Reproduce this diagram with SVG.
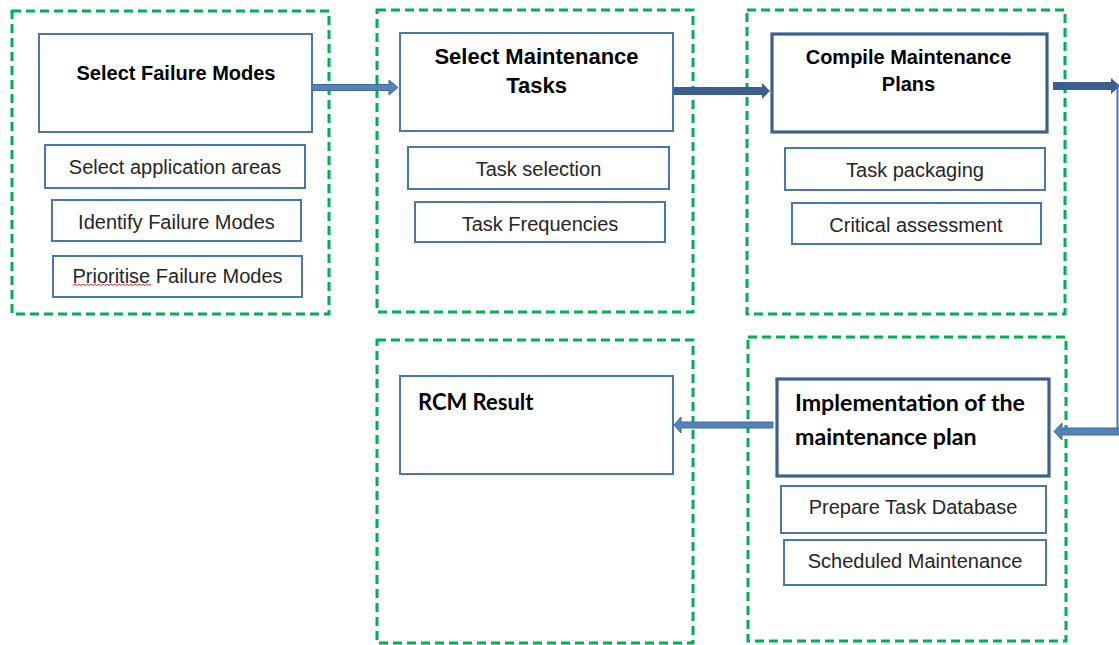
<svg xmlns="http://www.w3.org/2000/svg" width="1119" height="645" viewBox="0 0 1119 645">
<style>
.grp{fill:none;stroke:#00B050;stroke-width:3;stroke-dasharray:9 5}
.box{fill:#fff;stroke:#4a76a8;stroke-width:2}
.main{fill:#fff;stroke:#3b5f8f;stroke-width:3.2}
.t{font-family:"Liberation Sans",Arial,sans-serif;font-size:20px;fill:#262626;text-anchor:middle}
.h{font-family:"Liberation Sans",Arial,sans-serif;font-weight:bold;fill:#000;text-anchor:middle}
.c{font-family:Lato,"Liberation Sans",sans-serif;font-weight:bold;fill:#000}
.al{fill:#5482b9;stroke:#3e6a9c;stroke-width:1}
.ad{fill:#3d5f8f}
</style>
<rect width="1119" height="645" fill="#fff"/>
<g id="group-frames">
<rect class="grp" x="12" y="11" width="317" height="303"/>
<rect class="grp" x="377" y="10" width="316" height="302"/>
<rect class="grp" x="747" y="10" width="318" height="304"/>
<rect class="grp" x="377" y="340" width="316" height="303"/>
<rect class="grp" x="748" y="337" width="318" height="304"/>
</g>
<g id="connectors">
<path class="al" d="M312,84.5 H389 V80 L398,87.5 L389,95 V90.5 H312 Z"/>
<path class="ad" d="M673,87 H762 V83 L770,91 L762,99 V95 H673 Z"/>
<path class="ad" d="M1053,82 H1111 V78 L1120,86 L1111,94 V90 H1053 Z"/>
<line x1="1117.5" y1="86" x2="1117.5" y2="431" stroke="#4a76a8" stroke-width="2"/>
<path class="al" d="M1120,428 H1062 V423 L1054,431.5 L1062,440 V435 H1120 Z"/>
<path class="al" d="M773,422 H681 V417 L674,425 L681,433 V428 H773 Z"/>
</g>
<g id="select-failure-modes">
<rect class="box" x="39" y="34" width="273" height="98"/>
<text class="h" x="176" y="79.5" font-size="20">Select Failure Modes</text>
</g>
<g id="select-application-areas">
<rect class="box" x="45" y="145" width="260" height="43"/>
<text class="t" x="175" y="173.5">Select application areas</text>
</g>
<g id="identify-failure-modes">
<rect class="box" x="52" y="200" width="249" height="41"/>
<text class="t" x="176.5" y="228.5">Identify Failure Modes</text>
</g>
<g id="prioritise-failure-modes">
<rect class="box" x="53" y="256" width="249" height="41"/>
<text class="t" x="177.5" y="283">Prioritise Failure Modes</text>
<path d="M73,285.5 l2,-1.5 l2,1.5 l2,-1.5 l2,1.5 l2,-1.5 l2,1.5 l2,-1.5 l2,1.5 l2,-1.5 l2,1.5 l2,-1.5 l2,1.5 l2,-1.5 l2,1.5 l2,-1.5 l2,1.5 l2,-1.5 l2,1.5 l2,-1.5 l2,1.5 l2,-1.5 l2,1.5 l2,-1.5 l2,1.5 l2,-1.5 l2,1.5 l2,-1.5 l2,1.5 l2,-1.5 l2,1.5 l2,-1.5 l2,1.5 l2,-1.5 l2,1.5 l2,-1.5 l2,1.5 l2,-1.5 l2,1.5 l2,-1.5" fill="none" stroke="#e03030" stroke-width="1"/>
</g>
<g id="select-maintenance-tasks">
<rect class="box" x="400" y="33" width="273" height="98"/>
<text class="h" x="536.5" y="63.5" font-size="22">Select Maintenance</text>
<text class="h" x="536.5" y="92.5" font-size="22">Tasks</text>
</g>
<g id="task-selection">
<rect class="box" x="408" y="147" width="261" height="42"/>
<text class="t" x="538.5" y="175.5">Task selection</text>
</g>
<g id="task-frequencies">
<rect class="box" x="415" y="202" width="250" height="40"/>
<text class="t" x="540" y="230.5">Task Frequencies</text>
</g>
<g id="compile-maintenance-plans">
<rect class="main" x="772" y="34" width="275" height="98"/>
<text class="h" x="908.5" y="64" font-size="20">Compile Maintenance</text>
<text class="h" x="908.5" y="90.5" font-size="20">Plans</text>
</g>
<g id="task-packaging">
<rect class="box" x="785" y="148" width="260" height="42"/>
<text class="t" x="915" y="177">Task packaging</text>
</g>
<g id="critical-assessment">
<rect class="box" x="792" y="203" width="249" height="41"/>
<text class="t" x="916" y="232">Critical assessment</text>
</g>
<g id="implementation">
<rect class="main" x="777" y="379" width="272" height="97"/>
<text class="c" x="795" y="411" font-size="23.2">Implementation of the</text>
<text class="c" x="795" y="445" font-size="23.2">maintenance plan</text>
</g>
<g id="prepare-task-database">
<rect class="box" x="781" y="486" width="265" height="47"/>
<text class="t" x="913" y="514">Prepare Task Database</text>
</g>
<g id="scheduled-maintenance">
<rect class="box" x="784" y="540" width="262" height="45"/>
<text class="t" x="915" y="568">Scheduled Maintenance</text>
</g>
<g id="rcm-result">
<rect class="box" x="400" y="376" width="273" height="98"/>
<text class="c" x="418" y="410" font-size="22">RCM Result</text>
</g>
</svg>
